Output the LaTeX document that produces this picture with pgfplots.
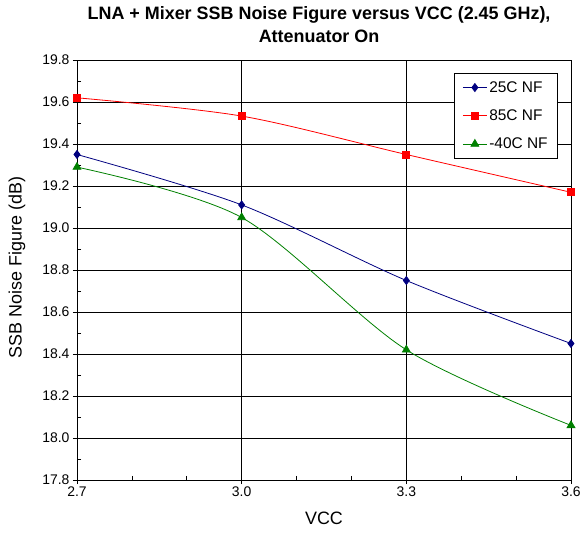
\documentclass[border=0pt]{standalone}
\usepackage{pgfplots}
\pgfplotsset{compat=1.18}
\usepackage{fontspec}
\setmainfont{Liberation Sans}
\definecolor{navyc}{RGB}{0,0,128}
\definecolor{redc}{RGB}{255,0,0}
\definecolor{greenc}{RGB}{0,128,0}
\begin{document}
\begin{tikzpicture}
\useasboundingbox (0,0) rectangle (584bp,534bp);
\begin{axis}[
  at={(77bp,54bp)}, anchor=south west,
  scale only axis, width=494bp, height=420bp,
  xmin=2.7, xmax=3.6, ymin=17.8, ymax=19.8,
  xtick={2.7,3.0,3.3,3.6}, ytick={17.8,18.0,...,19.8},
  minor x tick num=2, minor y tick num=1,
  xtick pos=bottom, ytick pos=left,
  tick align=outside,
  major tick length=4bp, minor tick length=-4bp,
  tick style={black, line width=0.6bp},
  grid=major, grid style={black, line width=0.6bp},
  axis line style={black, line width=0.75bp},
  /pgf/number format/.cd, fixed, fixed zerofill, precision=1, assume math mode=true,
  /pgfplots/.cd,
  ticklabel style={font=\fontsize{14}{16}\selectfont},
  xticklabel style={yshift=1bp},
  xlabel={VCC},
  ylabel={SSB Noise Figure (dB)},
  label style={font=\fontsize{18}{21}\selectfont},
  xlabel style={at={(axis description cs:0.5,0)}, anchor=center, yshift=-38bp},
  ylabel style={at={(axis description cs:-0.1214,0.506)}, anchor=center},
  title={LNA + Mixer SSB Noise Figure versus VCC (2.45 GHz),\\[0bp]Attenuator On},
  title style={font=\bfseries\fontsize{18}{23}\selectfont, align=center,
    at={(axis description cs:0.49,1)}, anchor=center, yshift=29bp},
  legend style={at={(rel axis cs:0.9737,0.969)}, anchor=north east,
    draw=black, fill=white, line width=0.75bp,
    font=\fontsize{15.5}{17}\selectfont, row sep=12bp,
    inner xsep=8bp, inner ysep=6bp},
  legend cell align=left,
  legend image code/.code={\draw[mark repeat=2,mark phase=2] plot coordinates {(0bp,0bp) (12bp,0bp) (24bp,0bp)};},
]
\addplot[navyc, line width=0.8bp, smooth, mark=diamond*, mark size=4bp, mark options={solid, fill=navyc}]
  coordinates {(2.7,19.35) (3.0,19.11) (3.3,18.75) (3.6,18.45)};
\addlegendentry{25C NF}
\addplot[redc, line width=0.8bp, smooth, mark=square*, mark size=3.5bp, mark options={solid, fill=redc}]
  coordinates {(2.7,19.62) (3.0,19.533) (3.3,19.35) (3.6,19.17)};
\addlegendentry{85C NF}
\addplot[greenc, line width=0.8bp, smooth, mark=triangle*, mark size=4.5bp, mark options={solid, fill=greenc}]
  coordinates {(2.7,19.29) (3.0,19.05) (3.3,18.42) (3.6,18.06)};
\addlegendentry{-40C NF}
\end{axis}
\end{tikzpicture}
\end{document}
